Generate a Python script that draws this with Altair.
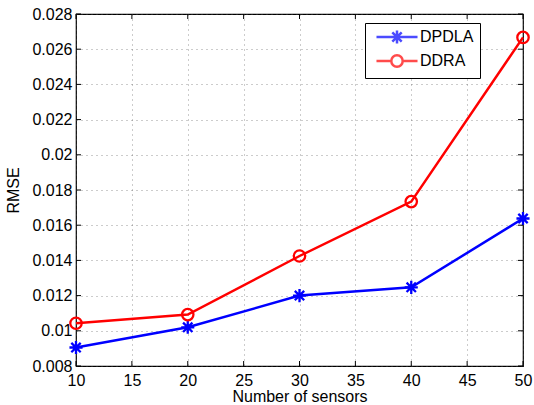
import altair as alt
import pandas as pd

sensors = [10, 20, 30, 40, 50]
dpdla = [0.00905, 0.0102, 0.0120, 0.01247, 0.01638]
ddra = [0.01043, 0.01092, 0.01425, 0.01734, 0.02667]
series_names = ["DPDLA", "DDRA"]
colors = ["#0000ff", "#ff0000"]
x_ticks = [10, 15, 20, 25, 30, 35, 40, 45, 50]
y_ticks = [0.008, 0.010, 0.012, 0.014, 0.016, 0.018, 0.020, 0.022, 0.024, 0.026, 0.028]

df = pd.DataFrame({
    "sensors": sensors * 2,
    "rmse": dpdla + ddra,
    "series": ["DPDLA"] * len(sensors) + ["DDRA"] * len(sensors),
})

W, H = 447, 352
FONT = "Liberation Sans"

star = "M-1.15,0L1.15,0M0,-1.15L0,1.15M-0.82,-0.82L0.82,0.82M-0.82,0.82L0.82,-0.82"
circ = "M1,0A1,1 0 1 1 -1,0A1,1 0 1 1 1,0Z"
star_leg = "M-3.6,0L3.6,0M0,-1.15L0,1.15M-0.82,-0.82L0.82,0.82M-0.82,0.82L0.82,-0.82"
circ_leg = "M-3.6,0L-1,0M1,0L3.6,0M1,0A1,1 0 1 1 -1,0A1,1 0 1 1 1,0Z"

xs = alt.Scale(domain=[10, 50], nice=False, zero=False)
ys = alt.Scale(domain=[0.008, 0.028], nice=False, zero=False)
cs = alt.Scale(domain=series_names, range=colors)

common_axis = dict(tickSize=0, grid=True, gridDash=[1, 4], gridColor="#555555",
                   gridOpacity=0.6, domain=False, labelFontSize=16, titleFontSize=16,
                   labelFont=FONT, titleFont=FONT, titleFontWeight="normal",
                   labelColor="#000", titleColor="#000", labelOverlap=False,
                   labelFlush=False)
x_axis = alt.Axis(values=x_ticks, labelPadding=6, title="Number of sensors",
                  titlePadding=0, **common_axis)
y_axis = alt.Axis(values=y_ticks, labelPadding=4, title="RMSE", titlePadding=10,
                  labelExpr="datum.value == 0.02 ? '0.02' : datum.value == 0.01 ? '0.01' : format(datum.value, '.3f')",
                  **common_axis)

X = alt.X("sensors:Q", scale=xs, axis=x_axis)
Y = alt.Y("rmse:Q", scale=ys, axis=y_axis)

base = alt.Chart(df)

lines = base.mark_line(strokeWidth=2.5).encode(
    x=X, y=Y,
    color=alt.Color("series:N", scale=cs, legend=None),
)

points = base.mark_point(filled=False, strokeWidth=2.3, size=130, opacity=1).encode(
    x=X, y=Y,
    color=alt.Color("series:N", scale=cs, legend=None),
    shape=alt.Shape("series:N", scale=alt.Scale(domain=series_names, range=[star, circ]), legend=None),
)

legend_layer = base.mark_point(filled=False, strokeWidth=2.3, size=130).encode(
    x=X, y=Y,
    color=alt.Color("series:N", scale=cs, legend=alt.Legend(title=None)),
    shape=alt.Shape("series:N", scale=alt.Scale(domain=series_names, range=[star_leg, circ_leg]),
                    legend=alt.Legend(title=None)),
).transform_filter("false")

tdf_x = pd.DataFrame({"t": x_ticks})
tdf_y = pd.DataFrame({"t": y_ticks})
tick_style = dict(color="#000", strokeWidth=1)
TX = alt.X("t:Q", scale=xs, axis=x_axis)
TY = alt.Y("t:Q", scale=ys, axis=y_axis)
tx_bot = alt.Chart(tdf_x).mark_rule(**tick_style).encode(
    x=TX, y=alt.value(H), y2=alt.value(H - 5))
tx_top = alt.Chart(tdf_x).mark_rule(**tick_style).encode(
    x=TX, y=alt.value(0), y2=alt.value(5))
ty_left = alt.Chart(tdf_y).mark_rule(**tick_style).encode(
    y=TY, x=alt.value(0), x2=alt.value(5))
ty_right = alt.Chart(tdf_y).mark_rule(**tick_style).encode(
    y=TY, x=alt.value(W), x2=alt.value(W - 5))

chart = alt.layer(lines, points, tx_bot, tx_top, ty_left, ty_right, legend_layer).resolve_scale(
    shape="independent", color="independent"
).properties(
    width=W, height=H,
    autosize=alt.AutoSizeParams(type="none"),
    padding={"left": 76, "top": 14, "right": 11, "bottom": 39},
    background="white",
).configure_view(
    stroke="#000", strokeWidth=1.2
).configure_legend(
    orient="none", legendX=289, legendY=9,
    strokeColor="#000", fillColor="#fff", padding=6,
    labelFont=FONT, labelFontSize=16, labelColor="#000",
    labelOffset=15, symbolStrokeWidth=2.5, symbolSize=130, rowPadding=1,
    symbolOffset=18,
)

chart.save("out.html", embed_options={"renderer": "svg", "actions": False})
